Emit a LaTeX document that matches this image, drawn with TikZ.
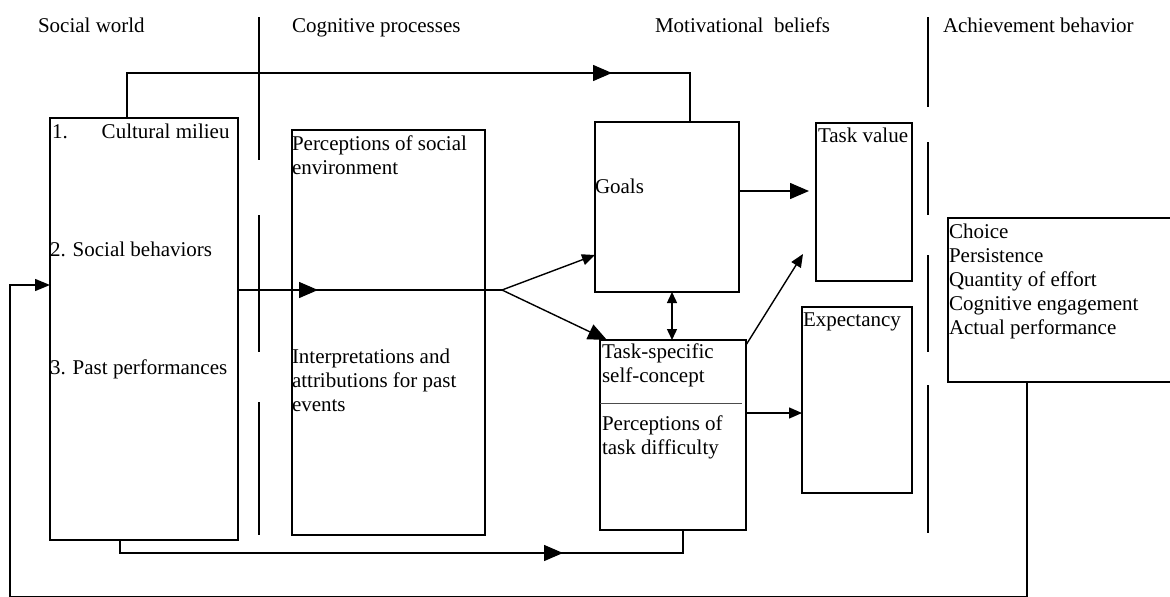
\documentclass[tikz,border=0pt]{standalone}
\usepackage{fontspec}
\setmainfont{Liberation Serif}
\usetikzlibrary{arrows.meta}
\begin{document}
\begin{tikzpicture}[x=1pt,y=-1pt,
  box/.style={draw, line width=1.5pt, inner sep=0pt, outer sep=0pt, anchor=north west},
  txt/.style={anchor=base west, inner sep=0pt, outer sep=0pt, font=\fontsize{21}{24}\selectfont},
  conn/.style={line width=1.4pt},
  sep/.style={line width=1.4pt},
  bigtip/.style={-{Triangle[length=19pt,width=16pt]}},
  midtip/.style={-{Triangle[length=13pt,width=11pt]}},
  twotip/.style={{Triangle[length=11pt,width=10pt]}-{Triangle[length=11pt,width=10pt]}},
  fbtip/.style={-{Triangle[length=15pt,width=12pt]}}
]
\fill[white] (0,0) rectangle (1170,597);
\useasboundingbox (0,0) rectangle (1170,597);

% column headings
\node[txt] (h1) at (38,32) {Social world};
\node[txt] (h2) at (292,32) {Cognitive processes};
\node[txt] (h3) at (655,32) {Motivational\hspace{0.5em}beliefs};
\node[txt] (h4) at (943,32) {Achievement behavior};

% column separators
\draw[sep] (259,17) -- (259,160) (259,215) -- (259,352) (259,402) -- (259,535);
\draw[sep] (928,17) -- (928,107) (928,142) -- (928,215) (928,255) -- (928,352) (928,385) -- (928,533);

% boxes
\node[box, minimum width=188pt, minimum height=422pt] (soc) at (50,118) {};
\node[box, minimum width=193pt, minimum height=405pt] (cog) at (292,130) {};
\node[box, minimum width=144pt, minimum height=170pt] (goals) at (595,122) {};
\node[box, minimum width=146pt, minimum height=190pt] (tsc) at (600,340) {};
\node[box, minimum width=96pt, minimum height=158pt] (tv) at (816,123) {};
\node[box, minimum width=110pt, minimum height=186pt] (exp) at (802,307) {};
\node[box, minimum width=240pt, minimum height=164pt] (ach) at (948,218) {};
\draw[line width=0.8pt, black!70] ([yshift=-63pt]tsc.north west) -- ++(142,0);

% social world
\node[txt] (s1) at (52,138) {1.\hspace{34pt}Cultural milieu};
\node[txt] (s2) at (50,256) {2. Social behaviors};
\node[txt] (s3) at (50,374) {3. Past performances};

% cognitive processes
\node[txt] (c1) at (292,150) {Perceptions of social};
\node[txt] (c2) at (292,174) {environment};
\node[txt] (c3) at (292,363) {Interpretations and};
\node[txt] (c4) at (292,387) {attributions for past};
\node[txt] (c5) at (292,411) {events};

% motivational beliefs
\node[txt] (g1) at (595,193) {Goals};
\node[txt] (t1) at (602,358) {Task-specific};
\node[txt] (t2) at (602,382) {self-concept};
\node[txt] (t3) at (602,430) {Perceptions of};
\node[txt] (t4) at (602,454) {task difficulty};
\node[txt] (v1) at (818,142) {Task value};
\node[txt] (e1) at (803,326) {Expectancy};

% achievement behavior
\node[txt] (a1) at (949,238) {Choice};
\node[txt] (a2) at (949,262) {Persistence};
\node[txt] (a3) at (949,286) {Quantity of effort};
\node[txt] (a4) at (949,310) {Cognitive engagement};
\node[txt] (a5) at (949,334) {Actual performance};

% connectors
\coordinate (topA) at (612,73);
\draw[conn, bigtip] ([xshift=77pt]soc.north west) |- (topA);
\draw[conn] ([xshift=-2pt]topA) -| ([xshift=95pt]goals.north west);

\coordinate (midA) at (318,290);
\coordinate (br) at (502,290);
\draw[conn, bigtip] (soc.east |- midA) -- (midA);
\draw[conn] ([xshift=-2pt]midA) -- (br);
\draw[conn, midtip] (br) -- ([yshift=37pt]goals.south west);
\draw[conn, bigtip] (br) -- ([xshift=7pt]tsc.north west);

\draw[conn, twotip] ([xshift=77pt]goals.south west) -- ([xshift=72pt]tsc.north west);
\draw[conn, bigtip] ([yshift=101pt]goals.south east) -- ([xshift=-7pt,yshift=11pt]tv.west);
\draw[conn, midtip] ([yshift=-5pt]tsc.north east) -- ([xshift=-13pt,yshift=27pt]tv.south west);
\draw[conn, midtip] ([yshift=22pt]tsc.east) -- ([yshift=-13pt]exp.west);

\coordinate (botA) at (563,553);
\draw[conn, bigtip] ([xshift=70pt]soc.south west) |- (botA);
\draw[conn] ([xshift=-2pt]botA) -| ([xshift=83pt]tsc.south west);

% feedback loop along the lower edge
\coordinate (fbL) at (10,596.6);
\draw[conn, fbtip] ([xshift=79pt]ach.south west) |- (fbL) |- ([yshift=44pt]soc.west);
\end{tikzpicture}
\end{document}
